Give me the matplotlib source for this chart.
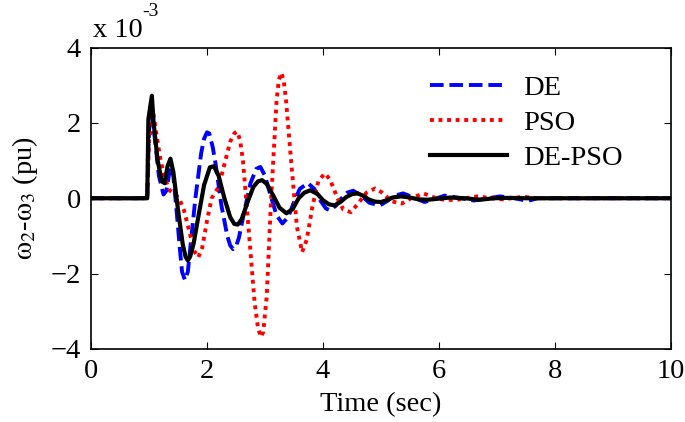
import matplotlib
matplotlib.use('Agg')
import matplotlib.pyplot as plt

# values in units of 1e-3 pu
t_de = [0, 0.97, 1.0, 1.05, 1.1, 1.17, 1.25, 1.3, 1.37, 1.42, 1.48, 1.53, 1.57, 1.62,
        1.67, 1.72, 1.8, 1.9, 1.95, 2.0, 2.04, 2.1, 2.15, 2.25, 2.35, 2.4, 2.45, 2.5,
        2.55, 2.65, 2.75, 2.85, 2.92, 3.0, 3.1, 3.2, 3.3, 3.4, 3.5, 3.6, 3.74, 3.85,
        3.95, 4.05, 4.12, 4.22, 4.32, 4.42, 4.52, 4.65, 4.8, 4.98, 5.1, 5.22, 5.38,
        5.55, 5.75, 5.92, 6.1, 6.3, 6.6, 6.85, 7.05, 7.3, 7.53, 7.7, 10]
y_de = [0, 0, 1.8, 2.2, 1.6, 0.6, 0.1, 0.2, 0.85, 0.6, -0.4, -1.3, -1.95, -2.17,
        -1.95, -1.2, 0.0, 1.2, 1.58, 1.75, 1.72, 1.35, 0.9, -0.2, -1.0, -1.25, -1.35, -1.28,
        -1.05, -0.3, 0.4, 0.78, 0.83, 0.6, 0.05, -0.45, -0.67, -0.5, -0.1, 0.25, 0.4, 0.25,
        -0.05, -0.27, -0.32, -0.2, 0.0, 0.15, 0.2, 0.08, -0.12, -0.19, -0.08, 0.06, 0.13,
        0.03, -0.1, -0.02, 0.07, 0.02, -0.06, 0.0, 0.05, 0.0, -0.07, 0.0, 0]

t_pso = [0, 0.97, 1.0, 1.07, 1.12, 1.2, 1.28, 1.36, 1.45, 1.52, 1.6, 1.7, 1.78, 1.85,
         1.92, 2.0, 2.08, 2.14, 2.2, 2.3, 2.4, 2.47, 2.52, 2.57, 2.62, 2.72, 2.82, 2.88,
         2.93, 2.97, 3.03, 3.1, 3.2, 3.24, 3.28, 3.32, 3.36, 3.45, 3.55, 3.64, 3.72,
         3.82, 3.92, 4.03, 4.12, 4.25, 4.35, 4.48, 4.6, 4.75, 4.9, 5.02, 5.18, 5.36,
         5.52, 5.73, 5.9, 6.05, 6.28, 6.45, 6.67, 6.9, 7.1, 7.45, 7.7, 10]
y_pso = [0, 0, 1.5, 2.3, 1.8, 1.0, 0.5, 0.2, 0.1, 0.0, -0.3, -0.9, -1.4, -1.57,
         -1.3, -0.6, 0.0, 0.15, 0.3, 0.9, 1.5, 1.72, 1.77, 1.55, 1.0, -0.85, -2.75, -3.45,
         -3.68, -3.55, -2.6, -0.2, 2.6, 3.15, 3.33, 3.15, 2.65, 1.0, -0.75, -1.43, -1.1,
         -0.2, 0.45, 0.66, 0.5, 0.0, -0.3, -0.37, -0.15, 0.15, 0.26, 0.15, -0.08, -0.14,
         0.0, 0.13, 0.03, -0.03, -0.05, 0.0, 0.05, 0.0, -0.03, 0.04, 0.0, 0]

t_depso = [0, 0.97, 0.99, 1.05, 1.08, 1.15, 1.22, 1.27, 1.32, 1.37, 1.42, 1.5, 1.58,
           1.63, 1.67, 1.71, 1.77, 1.85, 1.95, 2.05, 2.12, 2.2, 2.3, 2.4, 2.47, 2.53, 2.6,
           2.7, 2.8, 2.88, 2.95, 3.03, 3.15, 3.25, 3.37, 3.48, 3.58, 3.68, 3.78, 3.9,
           4.0, 4.1, 4.2, 4.3, 4.4, 4.5, 4.6, 4.7, 4.8, 4.9, 5.0, 5.1, 5.2, 5.35, 5.5,
           5.65, 5.8, 6.0, 6.2, 6.45, 6.7, 6.95, 7.2, 7.5, 10]
y_depso = [0, 0, 2.1, 2.72, 2.0, 1.0, 0.45, 0.4, 0.85, 1.05, 0.7, -0.3, -1.2,
           -1.55, -1.65, -1.55, -1.2, -0.5, 0.35, 0.82, 0.85, 0.6, 0.0, -0.5, -0.68, -0.7, -0.55,
           -0.1, 0.3, 0.45, 0.48, 0.38, 0.05, -0.25, -0.4, -0.28, 0.0, 0.15, 0.21, 0.12,
           -0.05, -0.16, -0.19, -0.1, 0.03, 0.11, 0.13, 0.06, -0.04, -0.09, -0.1, -0.05, 0.02, 0.05, 0.02,
           -0.03, -0.04, -0.01, 0.02, 0.0, -0.04, 0.0, 0.01, 0.0, 0]

plt.rcParams['font.family'] = ['Liberation Serif', 'DejaVu Serif']
plt.rcParams['mathtext.fontset'] = 'stix'

fig = plt.figure(figsize=(6.85, 4.22), dpi=100)
ax = fig.add_axes([0.1328, 0.173, 0.8468, 0.7144])

ax.plot(t_de, y_de, color='#0000ff', lw=2.8, ls=(0, (3.5, 1.5)), label='DE',
        solid_joinstyle='round')
ax.plot(t_pso, y_pso, color='#ff0000', lw=2.8, ls=(0, (1, 1.2)), label='PSO')
ax.plot(t_depso, y_depso, color='black', lw=3.0, label='DE-PSO', solid_joinstyle='round')

ax.set_xlim(0, 10)
ax.set_ylim(-4, 4)
ax.set_xticks([0, 2, 4, 6, 8, 10])
ax.set_yticks([-4, -2, 0, 2, 4])
ax.tick_params(direction='in', top=True, right=True, labelsize=20.5, length=5, pad=7)
for s in ax.spines.values():
    s.set_linewidth(1.2)

ax.set_xlabel('Time (sec)', fontsize=20.5, labelpad=6)
ax.set_ylabel(r'$\mathrm{\omega_2}$-$\mathrm{\omega_3}$ (pu)', fontsize=20.5, labelpad=8)
fig.text(0.136, 0.912, 'x 10', fontsize=20.5)
fig.text(0.208, 0.962, '-3', fontsize=14)

ax.legend(loc='upper right', bbox_to_anchor=(0.96, 0.995), frameon=False, fontsize=20.5,
          handlelength=2.7, handletextpad=0.55, labelspacing=0.32)

fig.savefig('out.png', dpi=100)
